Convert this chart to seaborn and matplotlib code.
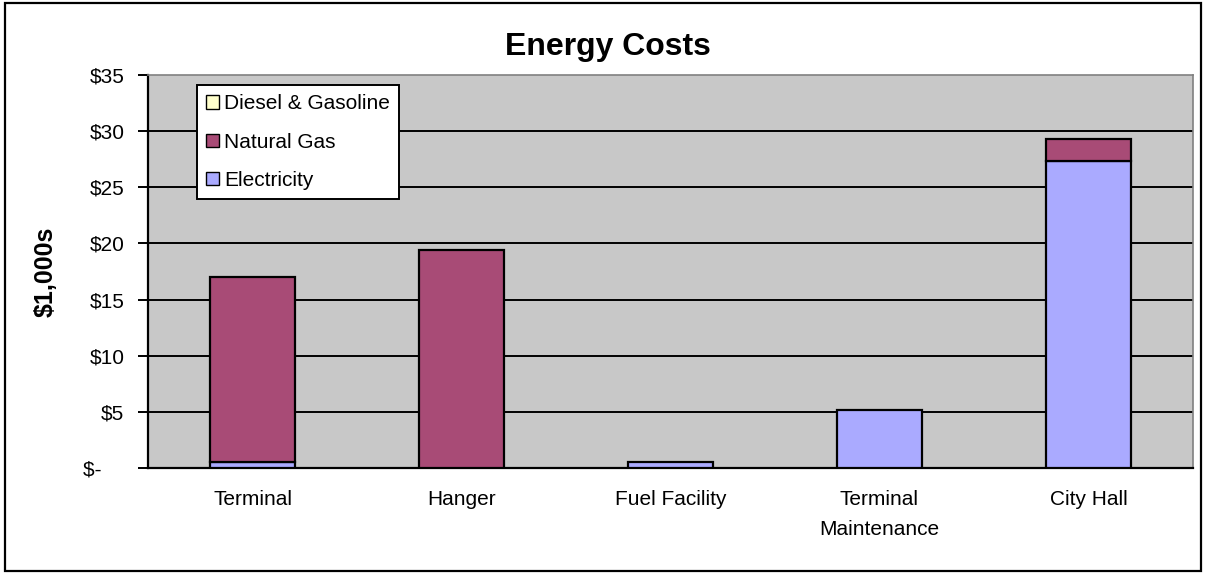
import matplotlib
matplotlib.use("Agg")
import matplotlib.pyplot as plt
import seaborn as sns
import numpy as np
import pandas as pd
from matplotlib.patches import Rectangle
from matplotlib.patches import Patch

categories = ["Terminal", "Hanger", "Fuel Facility", "Terminal\nMaintenance", "City Hall"]
electricity = [0.5, 0.0, 0.5, 5.2, 27.3]
natural_gas = [16.5, 19.4, 0.0, 0.0, 2.0]
diesel_gasoline = [0.0, 0.0, 0.0, 0.0, 0.0]
y_ticks = [0, 5, 10, 15, 20, 25, 30, 35]
y_tick_labels = ["$-    ", "$5", "$10", "$15", "$20", "$25", "$30", "$35"]

sns.set_theme(style="white")
plt.rcParams["font.family"] = ["Liberation Sans", "DejaVu Sans"]
plt.rcParams["text.color"] = "black"
plt.rcParams["axes.labelcolor"] = "black"
plt.rcParams["xtick.color"] = "black"
plt.rcParams["ytick.color"] = "black"

c_elec = "#AAAAFF"
c_gas = "#A84B76"
c_dies = "#FFFFCC"
bg = "#C8C8C8"

fig = plt.figure(figsize=(12.06, 5.73), dpi=100)
ax = fig.add_axes([148/1206, 1 - 468/573, (1193-148)/1206, (468-75)/573])
ax.set_facecolor(bg)

df = pd.DataFrame({"cat": categories, "elec": electricity, "gas": natural_gas, "dies": diesel_gasoline})
df["gas_bottom"] = df["elec"]
df["dies_bottom"] = df["elec"] + df["gas"]

bw = 0.41
kw = dict(edgecolor="black", linewidth=1.6, width=bw, zorder=3)
sns.barplot(data=df, x="cat", y="elec", color=c_elec, saturation=1, ax=ax, **kw)
sns.barplot(data=df, x="cat", y="gas", bottom=df["gas_bottom"], color=c_gas, saturation=1, ax=ax, **kw)
sns.barplot(data=df, x="cat", y="dies", bottom=df["dies_bottom"], color=c_dies, saturation=1, ax=ax, **kw)

for p in ax.patches:
    if p.get_height() == 0:
        p.set_visible(False)

ax.set_xlim(-0.5, 4.5)
ax.set_ylim(0, 35)
ax.set_yticks(y_ticks)
ax.set_yticklabels(y_tick_labels, fontsize=15, color="black")
for y in y_ticks[1:-1]:
    ax.axhline(y, color="black", linewidth=1.4, zorder=1)

ax.set_xticks(range(len(categories)))
ax.set_xticklabels(categories, fontsize=15, linespacing=1.75, color="black")
ax.set_xticks(np.arange(-0.5, 5.0, 1.0), minor=True)
ax.tick_params(axis="x", which="major", length=0, pad=16)
ax.tick_params(axis="x", which="minor", length=7, width=1.4, color="black", direction="out")
ax.tick_params(axis="y", which="major", length=7, width=1.4, color="black", direction="out", pad=10, left=True)
for lbl in ax.get_yticklabels():
    lbl.set_horizontalalignment("right")

ax.set_xlabel("")
ax.set_ylabel("$1,000s", fontsize=18, fontweight="bold", labelpad=18, color="black")

for s in ["left", "bottom"]:
    ax.spines[s].set_color("black")
    ax.spines[s].set_linewidth(1.6)
for s in ["top", "right"]:
    ax.spines[s].set_color("#808080")
    ax.spines[s].set_linewidth(1.2)

fig.text(608/1206, 1 - 47/573, "Energy Costs", fontsize=23, fontweight="bold",
         ha="center", va="center", color="black")

handles = [Patch(facecolor=c_dies, edgecolor="black", label="Diesel & Gasoline"),
           Patch(facecolor=c_gas, edgecolor="black", label="Natural Gas"),
           Patch(facecolor=c_elec, edgecolor="black", label="Electricity")]
leg = ax.legend(handles=handles, loc="upper left", bbox_to_anchor=(49/1045, 1 - 10/393),
                fontsize=15, frameon=True, fancybox=False, framealpha=1, edgecolor="black",
                handlelength=0.6, handleheight=0.6, handletextpad=0.25, labelspacing=0.92,
                borderpad=0.45, borderaxespad=0)
leg.get_frame().set_linewidth(1.4)
leg.set_zorder(5)
for t in leg.get_texts():
    t.set_color("black")

fig.patches.append(Rectangle((5/1206, 2/573), 1196/1206, 568/573, transform=fig.transFigure,
                             fill=False, edgecolor="black", linewidth=1.6))

fig.savefig("out.png", dpi=100, facecolor="white")
